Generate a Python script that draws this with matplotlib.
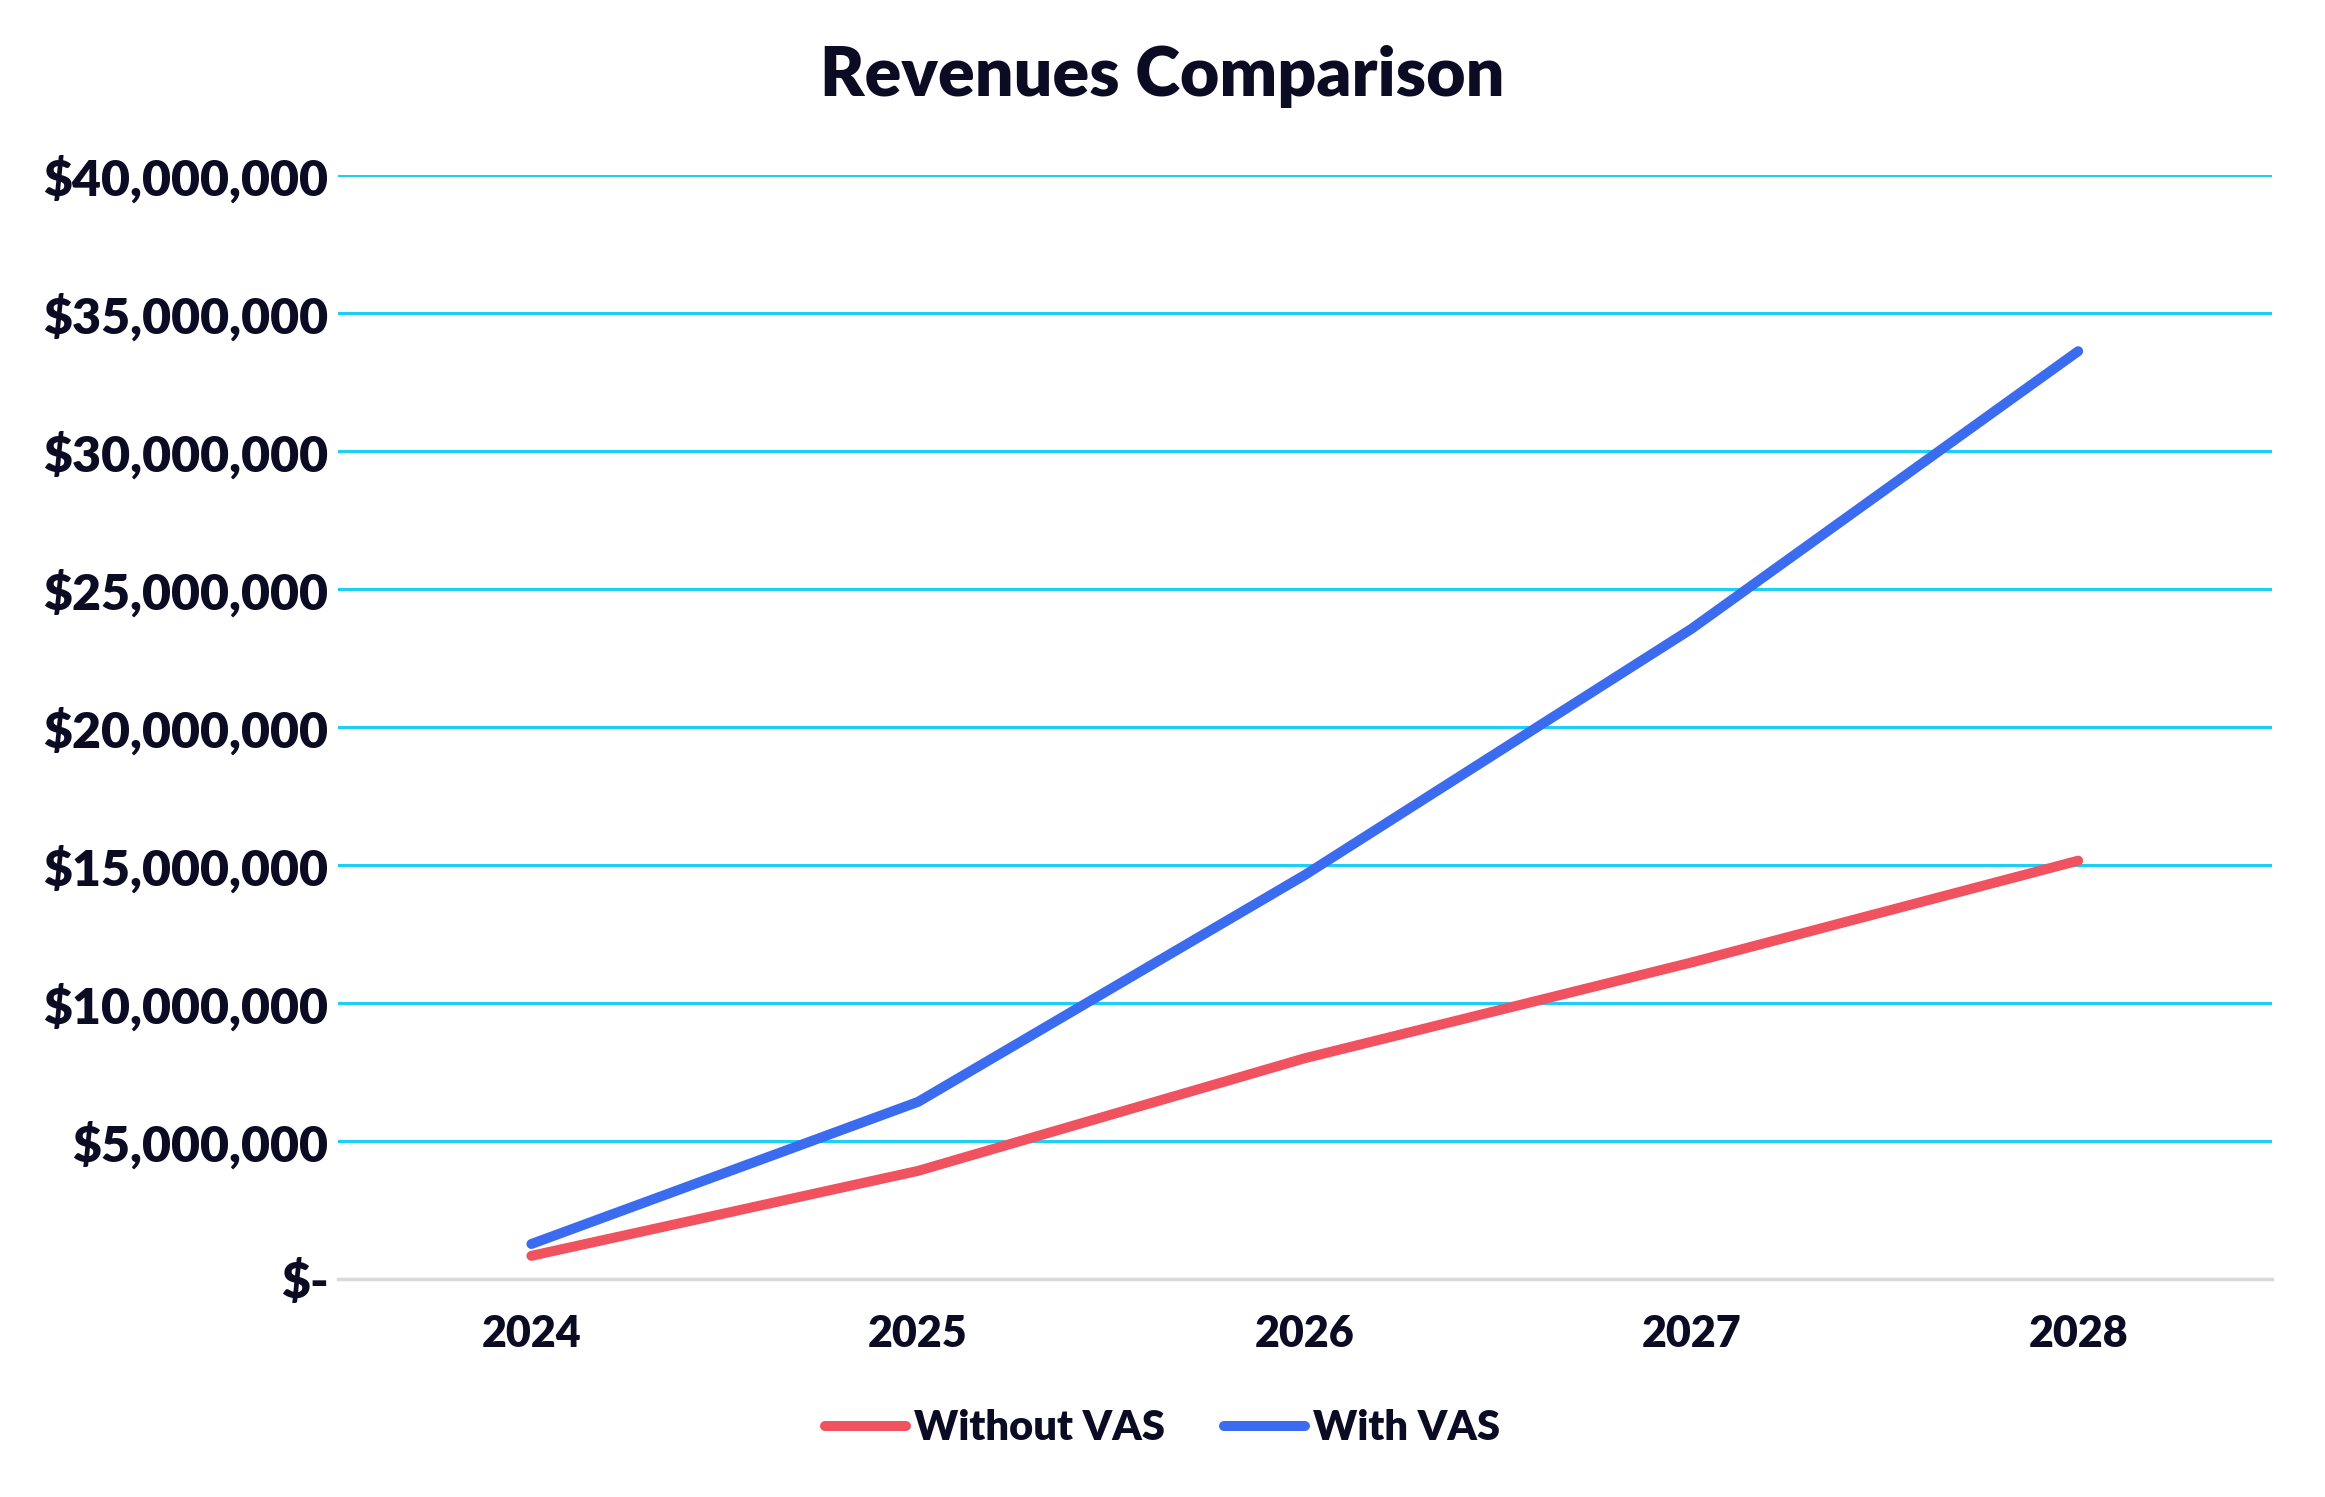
import matplotlib
matplotlib.use("Agg")
import matplotlib.pyplot as plt
import matplotlib.ticker as ticker

# Revenues comparison data (USD)
years = ['2024', '2025', '2026', '2027', '2028']
without_vas = [840000, 3920000, 8000000, 11470000, 15160000]
with_vas = [1270000, 6420000, 14640000, 23560000, 33620000]
y_ticks = [0, 5000000, 10000000, 15000000, 20000000, 25000000, 30000000, 35000000, 40000000]

text_color = '#0b0b24'
red = '#f0525f'
blue = '#3b6cf0'
grid_color = '#1ecff5'

plt.rcParams['font.family'] = ['Lato', 'DejaVu Sans']

fig = plt.figure(figsize=(23.25, 14.97), dpi=100)
ax = fig.add_axes([0.1454, 0.1456, 0.977 - 0.1454, 0.883 - 0.1456])

x = range(len(years))
ax.plot(x, without_vas, color=red, linewidth=7.2, solid_capstyle='round',
        solid_joinstyle='round', label='Without VAS', zorder=3)
ax.plot(x, with_vas, color=blue, linewidth=7.2, solid_capstyle='round',
        solid_joinstyle='round', label='With VAS', zorder=3)

ax.set_xlim(-0.5, len(years) - 0.5)
ax.set_ylim(0, 40000000)
ax.set_xticks(list(x))
ax.set_xticklabels(years)
ax.set_yticks(y_ticks)


def money(v, pos):
    if v == 0:
        return '$-'
    return '${:,.0f}'.format(v)


ax.yaxis.set_major_formatter(ticker.FuncFormatter(money))

# gridlines
ax.grid(True, axis='y', color=grid_color, linewidth=2.2, zorder=1)
ax.set_axisbelow(True)
for side in ['top', 'right', 'left']:
    ax.spines[side].set_visible(False)
ax.spines['bottom'].set_color('#d9d9d9')
ax.spines['bottom'].set_linewidth(2.5)
ax.spines['bottom'].set_zorder(2)

ax.tick_params(axis='both', length=0, labelcolor=text_color)
ax.tick_params(axis='x', pad=25, labelsize=31)
ax.tick_params(axis='y', pad=7, labelsize=36)
for lab in ax.get_xticklabels() + ax.get_yticklabels():
    lab.set_fontweight('heavy')

fig.text(0.5, 0.9486, 'Revenues Comparison', ha='center', va='center',
         fontsize=49, fontweight='heavy', color=text_color)

leg = fig.legend(loc='center', bbox_to_anchor=(0.5, 0.046), ncol=2,
                 frameon=False, fontsize=30, handlelength=1.95,
                 handletextpad=0.2, columnspacing=1.4)
for t in leg.get_texts():
    t.set_fontweight('heavy')
    t.set_color(text_color)

fig.savefig('out.png', dpi=100)
